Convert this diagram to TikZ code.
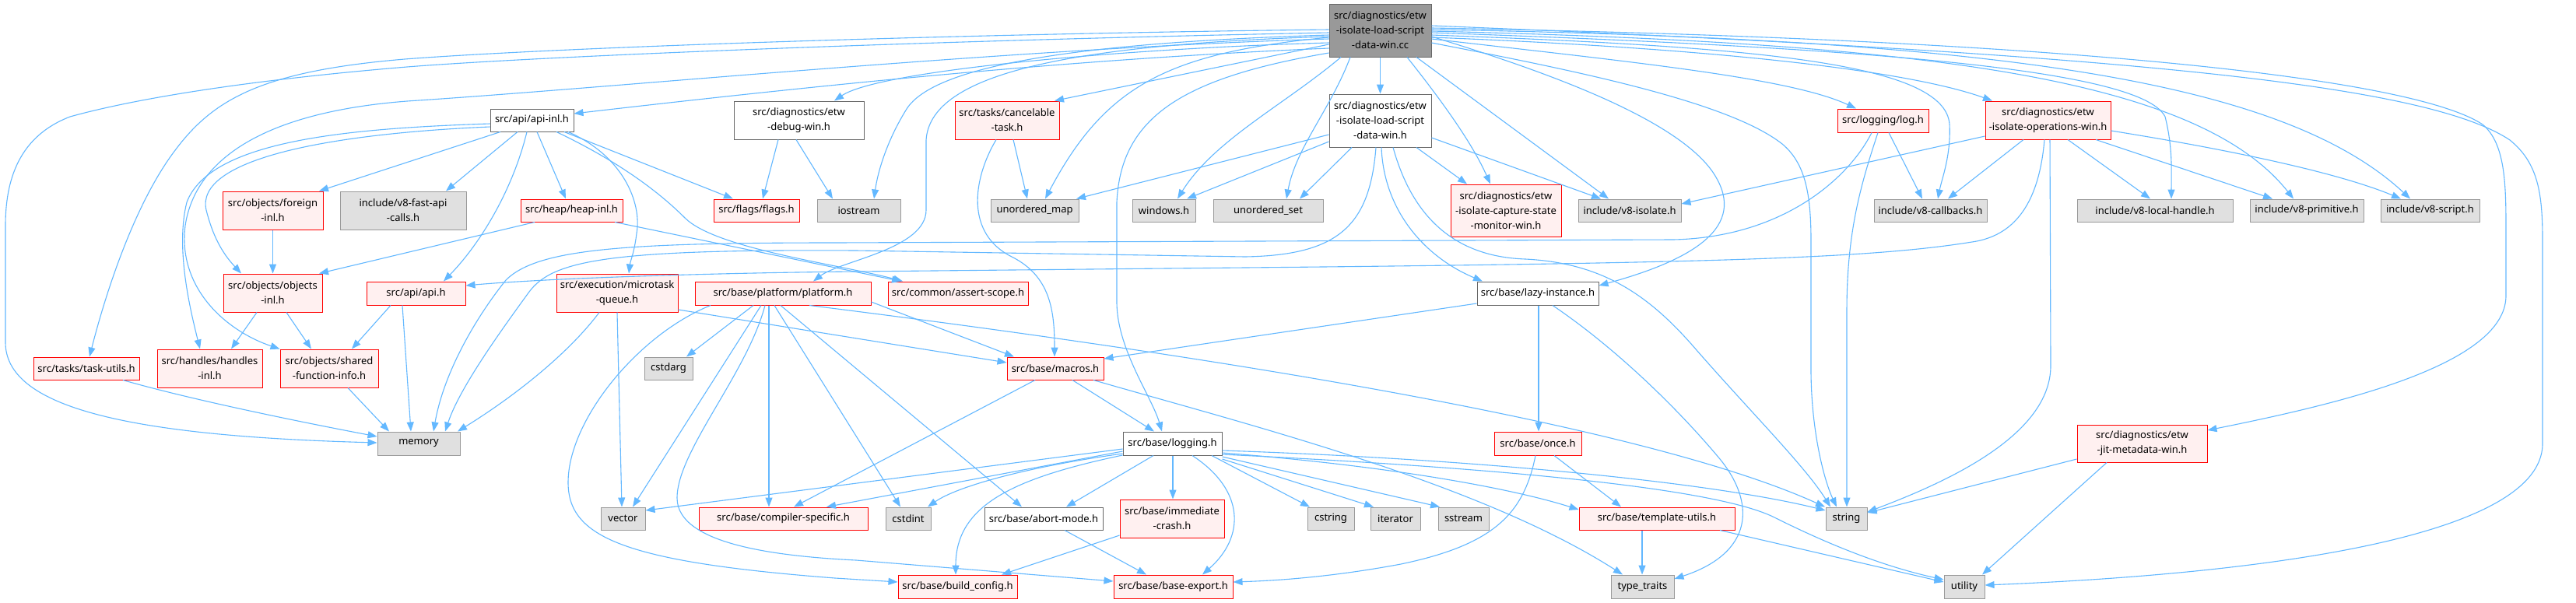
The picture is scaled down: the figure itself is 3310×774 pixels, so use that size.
\documentclass[tikz,border=0pt]{standalone}
\usepackage{fontspec}
\setmainfont{Noto Sans}
\usetikzlibrary{arrows.meta}
\definecolor{edgec}{HTML}{63B8FF}
\definecolor{rborder}{HTML}{FF0000}
\definecolor{rfill}{HTML}{FFF0F0}
\definecolor{gborder}{HTML}{999999}
\definecolor{gfill}{HTML}{E0E0E0}
\definecolor{wborder}{HTML}{666666}
\definecolor{rootfill}{HTML}{999999}
\tikzset{
  box/.style={rectangle, line width=1pt, inner sep=0pt, align=center, text=black,
    font=\fontsize{13pt}{19pt}\selectfont},
  rn/.style={box, draw=rborder, fill=rfill},
  gn/.style={box, draw=gborder, fill=gfill},
  wn/.style={box, draw=wborder, fill=white},
  rootn/.style={box, draw=wborder, fill=rootfill},
  e/.style={draw=edgec, line width=1.1pt, -{Triangle[length=12pt,width=9pt]}},
  sz/.style 2 args={minimum width=#1pt, minimum height=#2pt}
}
\begin{document}
\begin{tikzpicture}[x=1pt,y=-1pt]
\fill[white] (0,0) rectangle (3310,774);
\useasboundingbox (0,0) rectangle (3310,774);
% nodes
\node[rootn,sz={131}{68}] (root) at (1773.5,39) {src/diagnostics/etw\\-isolate-load-script\\-data-win.cc};
\node[wn,sz={131}{68}] (loadh) at (1773.5,155) {src/diagnostics/etw\\-isolate-load-script\\-data-win.h};
\node[rn,sz={142}{67}] (capture) at (1935,270.5) {src/diagnostics/etw\\-isolate-capture-state\\-monitor-win.h};
\node[gn,sz={132}{29}] (isolate) at (2094,270.5) {include/v8-isolate.h};
\node[wn,sz={156}{30}] (lazy) at (1976,377) {src/base/lazy-instance.h};
\node[gn,sz={141}{29}] (uset) at (1629.5,270.5) {unordered\_set};
\node[gn,sz={81}{29}] (windows) at (1495.5,270.5) {windows.h};
\node[gn,sz={113}{29}] (umap) at (1329.5,270.5) {unordered\_map};
\node[rn,sz={134}{49}] (cancel) at (1294,154.5) {src/tasks/cancelable\\-task.h};
\node[gn,sz={107}{29}] (iostream) at (1103.5,270.5) {iostream};
\node[wn,sz={167}{49}] (debug) at (1026.5,154.5) {src/diagnostics/etw\\-debug-win.h};
\node[rn,sz={110}{29}] (flags) at (972,270.5) {src/flags/flags.h};
\node[wn,sz={107}{29}] (apiinl) at (683.5,154.5) {src/api/api-inl.h};
\node[rn,sz={131}{29}] (heap) at (734.5,270.5) {src/heap/heap-inl.h};
\node[gn,sz={162}{49}] (fastapi) at (518,270.5) {include/v8-fast-api\\-calls.h};
\node[rn,sz={129}{49}] (foreign) at (350.5,270.5) {src/objects/foreign\\-inl.h};
\node[rn,sz={127}{49}] (objects) at (350.5,376.5) {src/objects/objects\\-inl.h};
\node[rn,sz={127}{30}] (api) at (534.5,377) {src/api/api.h};
\node[rn,sz={156}{49}] (microtask) at (793,376.5) {src/execution/microtask\\-queue.h};
\node[rn,sz={226}{30}] (platform) at (1006,377) {src/base/platform/platform.h};
\node[rn,sz={180}{30}] (assert) at (1231,377) {src/common/assert-scope.h};
\node[rn,sz={136}{29}] (taskutils) at (111,473.5) {src/tasks/task-utils.h};
\node[rn,sz={135}{49}] (handles) at (269.5,473.5) {src/handles/handles\\-inl.h};
\node[rn,sz={126}{49}] (sfi) at (423,473.5) {src/objects/shared\\-function-info.h};
\node[gn,sz={106}{30}] (memory) at (538,570) {memory};
\node[gn,sz={62}{29}] (cstdarg) at (859,473.5) {cstdarg};
\node[rn,sz={124}{29}] (macros) at (1356,473.5) {src/base/macros.h};
\node[gn,sz={57}{29}] (vector) at (800.5,666.5) {vector};
\node[rn,sz={217}{29}] (compiler) at (1006.5,666.5) {src/base/compiler-specific.h};
\node[gn,sz={58}{29}] (cstdint) at (1167,666.5) {cstdint};
\node[wn,sz={127}{30}] (logging) at (1506.5,570) {src/base/logging.h};
\node[wn,sz={152}{29}] (abort) at (1341,666.5) {src/base/abort-mode.h};
\node[rn,sz={134}{49}] (immediate) at (1506,666.5) {src/base/immediate\\-crash.h};
\node[rn,sz={153}{30}] (buildcfg) at (1230.5,754) {src/base/build\_config.h};
\node[rn,sz={153}{30}] (baseexport) at (1507.5,754) {src/base/base-export.h};
\node[gn,sz={60}{29}] (cstring) at (1710,666.5) {cstring};
\node[gn,sz={64}{29}] (iterator) at (1793,666.5) {iterator};
\node[gn,sz={65}{29}] (sstream) at (1880.5,666.5) {sstream};
\node[rn,sz={112}{30}] (once) at (1976,570) {src/base/once.h};
\node[rn,sz={200}{29}] (template) at (2129,666.5) {src/base/template-utils.h};
\node[gn,sz={81}{30}] (typetraits) at (2110.5,754) {type\_traits};
\node[gn,sz={53}{29}] (string) at (2372.5,666.5) {string};
\node[gn,sz={52}{30}] (utility) at (2524,754) {utility};
\node[rn,sz={167}{48}] (jit) at (2752.5,570) {src/diagnostics/etw\\-jit-metadata-win.h};
\node[rn,sz={117}{30}] (log) at (2419.5,155) {src/logging/log.h};
\node[rn,sz={161}{49}] (opswin) at (2631.5,154.5) {src/diagnostics/etw\\-isolate-operations-win.h};
\node[gn,sz={145}{29}] (callbacks) at (2480.5,270.5) {include/v8-callbacks.h};
\node[gn,sz={200}{29}] (localhandle) at (2769,270.5) {include/v8-local-handle.h};
\node[gn,sz={146}{29}] (primitive) at (2964,270.5) {include/v8-primitive.h};
\node[gn,sz={127}{29}] (script) at (3122.5,270.5) {include/v8-script.h};
% root edges
\draw[e] (root.west |- 0,42) .. controls (1200,52) and (700,72) .. (523,86) .. controls (330,102) and (180,125) .. (90,150) .. controls (25,175) and (7,230) .. (7,290) -- (7,440) .. controls (7,520) and (150,560) .. (memory.west |- 0,569);
\draw[e] (root.west |- 0,38) .. controls (1200,44) and (700,62) .. (520,76) .. controls (330,92) and (270,130) .. (220,200) .. controls (170,270) and (135,380) .. (taskutils.north -| 115,0);
\draw[e] (root.west |- 0,50) .. controls (1300,62) and (800,112) .. (523,130) .. controls (330,145) and (250,210) .. (238,290) .. controls (228,370) and (290,425) .. (sfi.north west);
\draw[e] (root.west |- 0,62) .. controls (1400,75) and (1100,104) .. (apiinl.east |- 0,146);
\draw[e] (root.west |- 0,55) .. controls (1450,62) and (1130,90) .. (debug.north -| 1072,0);
\draw[e] (root.west |- 0,45) .. controls (1380,55) and (1200,85) .. (1165,140) .. controls (1140,180) and (1128,220) .. (iostream.north -| 1123,0);
\draw[e] (root.west |- 0,48) .. controls (1500,68) and (1420,110) .. (umap.north -| 1343,0);
\draw[e] (root.west |- 0,57) -- (cancel.north -| 1355,0);
\draw[e] (root.west |- 0,47) .. controls (1350,58) and (1195,100) .. (1190,180) -- (1190,270) .. controls (1190,320) and (1080,335) .. (platform.north -| 1045,0);
\draw[e] (root.south -| 1723,0) .. controls (1650,135) and (1560,180) .. (windows.north -| 1513,0);
\draw[e] (root.west |- 0,68) .. controls (1520,100) and (1440,150) .. (1435,260) -- (1435,390) .. controls (1436,450) and (1480,510) .. (logging.north -| 1493,0);
\draw[e] (root.south -| 1735,0) .. controls (1710,140) and (1665,190) .. (uset.north -| 1653,0);
\draw[e] (root) -- (loadh);
\draw[e] (root.south -| 1808,0) .. controls (1845,120) and (1890,180) .. (capture.north -| 1915,0);
\draw[e] (root.south -| 1820,0) -- (isolate.north -| 2067,0);
\draw[e] (root.east |- 0,47) .. controls (1980,90) and (2150,150) .. (2200,220) .. controls (2245,285) and (2190,330) .. (lazy.east |- 0,367);
\draw[e] (root.east |- 0,55) .. controls (2020,90) and (2220,130) .. (2290,185) .. controls (2320,210) and (2327,250) .. (2327,310) -- (2327,480) .. controls (2328,560) and (2345,620) .. (string.north -| 2360,0);
\draw[e] (root.east |- 0,50) .. controls (2100,80) and (2300,100) .. (log.north -| 2385,0);
\draw[e] (root.east |- 0,45) .. controls (2250,60) and (2500,80) .. (2505,160) .. controls (2507,200) and (2495,230) .. (callbacks.north -| 2490,0);
\draw[e] (root.east |- 0,48) .. controls (2200,62) and (2450,90) .. (opswin.north -| 2560,0);
\draw[e] (root.east |- 0,42) .. controls (2350,60) and (2750,85) .. (2782,150) .. controls (2792,190) and (2790,220) .. (localhandle.north -| 2790,0);
\draw[e] (root.east |- 0,40) .. controls (2450,55) and (2820,95) .. (primitive.north -| 2947,0);
\draw[e] (root.east |- 0,38) .. controls (2550,50) and (2930,100) .. (script.north -| 3097,0);
\draw[e] (root.east |- 0,36) .. controls (2650,50) and (3100,100) .. (3190,160) .. controls (3220,185) and (3220,240) .. (3220,300) -- (3220,380) .. controls (3220,470) and (3000,520) .. (jit.east |- 0,553);
\draw[e] (root.east |- 0,33) .. controls (2750,70) and (3120,110) .. (3225,180) .. controls (3262,210) and (3267,250) .. (3267,310) -- (3267,570) .. controls (3267,700) and (2850,740) .. (utility.east |- 0,752);
% loadh edges
\draw[e] (loadh.west |- 0,173) -- (umap.north -| 1383,0);
\draw[e] (loadh.west |- 0,182) -- (windows.north -| 1525,0);
\draw[e] (loadh.south -| 1737,0) -- (uset.north -| 1670,0);
\draw[e] (loadh.south -| 1768,0) .. controls (1760,290) and (1720,328) .. (1600,330) -- (1100,322) .. controls (780,320) and (710,335) .. (680,375) .. controls (640,430) and (590,500) .. (memory.north -| 572,0);
\draw[e] (loadh.south -| 1775,0) .. controls (1778,270) and (1830,330) .. (lazy.north -| 1905,0);
\draw[e] (loadh.south -| 1790,0) .. controls (1815,280) and (1870,330) .. (1960,333) .. controls (2060,338) and (2120,380) .. (2180,450) .. controls (2250,530) and (2320,600) .. (string.north -| 2352,0);
\draw[e] (loadh.south -| 1820,0) -- (capture.north -| 1885,0);
\draw[e] (loadh.east |- 0,177) -- (isolate.north -| 2057,0);
% log edges
\draw[e] (log.south -| 2405,0) .. controls (2375,230) and (2290,305) .. (2150,308) -- (1073,312) .. controls (800,312) and (690,320) .. (650,360) .. controls (610,410) and (570,480) .. (memory.north -| 557,0);
\draw[e] (log.south -| 2413,0) .. controls (2390,240) and (2373,300) .. (2373,400) -- (string.north -| 2373,0);
\draw[e] (log.south -| 2427,0) -- (callbacks.north -| 2470,0);
% opswin edges
\draw[e] (opswin.west |- 0,175) -- (isolate.east |- 0,262);
\draw[e] (opswin.south -| 2600,0) -- (callbacks.north -| 2503,0);
\draw[e] (opswin.south -| 2627,0) .. controls (2620,260) and (2590,300) .. (2540,310) .. controls (2420,330) and (2250,337) .. (1700,343) -- (1100,349) .. controls (900,351) and (700,358) .. (api.east |- 0,367);
\draw[e] (opswin.south -| 2634,0) -- (2635,470) .. controls (2635,560) and (2500,620) .. (string.east |- 0,658);
\draw[e] (opswin.south -| 2657,0) -- (localhandle.north -| 2763,0);
\draw[e] (opswin.south -| 2693,0) -- (primitive.north -| 2920,0);
\draw[e] (opswin.east |- 0,168) .. controls (2850,190) and (3000,220) .. (script.north -| 3085,0);
% cancel, debug
\draw[e] (cancel.south -| 1302,0) -- (umap.north -| 1320,0);
\draw[e] (cancel.south -| 1280,0) .. controls (1250,230) and (1240,300) .. (1300,330) .. controls (1350,355) and (1355,400) .. (macros.north -| 1355,0);
\draw[e] (debug.south -| 1000,0) -- (flags.north -| 980,0);
\draw[e] (debug.south -| 1023,0) -- (iostream.north -| 1070,0);
% apiinl
\draw[e] (apiinl.south -| 643,0) -- (foreign.north -| 410,0);
\draw[e] (apiinl.south -| 665,0) -- (fastapi.north -| 573,0);
\draw[e] (apiinl.south -| 677,0) .. controls (660,240) and (620,310) .. (api.north -| 570,0);
\draw[e] (apiinl.south -| 690,0) -- (heap.north -| 727,0);
\draw[e] (apiinl.south -| 725,0) -- (flags.north -| 942,0);
\draw[e] (apiinl.south -| 730,0) .. controls (800,200) and (825,260) .. (818,300) .. controls (815,325) and (810,335) .. (microtask.north -| 808,0);
\draw[e] (apiinl.south -| 715,0) .. controls (800,210) and (850,250) .. (880,280) .. controls (920,320) and (1080,340) .. (assert.north -| 1160,0);
\draw[e] (apiinl.west |- 0,159) .. controls (450,165) and (270,180) .. (240,260) .. controls (225,320) and (245,400) .. (handles.north -| 257,0);
\draw[e] (apiinl.west |- 0,163) .. controls (420,172) and (250,205) .. (265,270) .. controls (275,310) and (290,330) .. (objects.north -| 310,0);
% heap etc
\draw[e] (heap.south -| 687,0) -- (objects.north -| 410,0);
\draw[e] (heap.south -| 790,0) -- (assert.north -| 1158,0);
\draw[e] (foreign) -- (objects);
\draw[e] (objects.south -| 330,0) -- (handles.north -| 297,0);
\draw[e] (objects.south -| 368,0) -- (sfi.north -| 400,0);
\draw[e] (api.south -| 502,0) -- (sfi.north -| 452,0);
\draw[e] (api.south -| 517,0) -- (memory.north -| 528,0);
\draw[e] (sfi.south -| 447,0) -- (memory.north -| 500,0);
\draw[e] (taskutils.south -| 158,0) .. controls (250,515) and (400,545) .. (memory.west |- 0,561);
\draw[e] (microtask.south -| 770,0) .. controls (730,455) and (660,510) .. (memory.north -| 588,0);
\draw[e] (microtask.south -| 793,0) -- (vector.north -| 799,0);
\draw[e] (microtask.east |- 0,398) -- (macros.west |- 0,466);
% platform
\draw[e] (platform.south -| 913,0) .. controls (820,430) and (730,540) .. (730,620) .. controls (730,690) and (800,722) .. (1073,743) -- (buildcfg.west |- 0,748);
\draw[e] (platform.south -| 968,0) -- (cstdarg.north -| 882,0);
\draw[e] (platform.south -| 978,0) -- (vector.north -| 813,0);
\draw[e] (platform.south -| 983,0) .. controls (960,480) and (870,580) .. (870,640) .. controls (870,700) and (1000,715) .. (1100,720) -- (baseexport.west |- 0,747);
\draw[e] (platform.south -| 988,0) -- (compiler.north -| 988,0);
\draw[e] (platform.south -| 995,0) -- (cstdint.north -| 1157,0);
\draw[e] (platform.south -| 1003,0) -- (abort.north -| 1313,0);
\draw[e] (platform.east |- 0,388) -- (macros.north -| 1303,0);
\draw[e] (platform.south -| 1040,0) .. controls (1500,450) and (2100,540) .. (string.north -| 2345,0);
% macros
\draw[e] (macros.south -| 1378,0) -- (logging.north -| 1483,0);
\draw[e] (macros.south -| 1330,0) -- (compiler.north -| 1020,0);
\draw[e] (macros.south -| 1405,0) .. controls (1600,545) and (1900,620) .. (typetraits.north -| 2085,0);
% lazy
\draw[e] (lazy.west |- 0,390) -- (macros.east |- 0,461);
\draw[e] (lazy.south -| 1977,0) -- (once.north -| 1977,0);
\draw[e] (lazy.south -| 1995,0) .. controls (2080,450) and (2160,530) .. (2210,590) .. controls (2255,645) and (2255,710) .. (typetraits.east |- 0,744);
% once, template
\draw[e] (once.south -| 1997,0) -- (template.north -| 2083,0);
\draw[e] (once.south -| 1973,0) .. controls (1958,660) and (1920,700) .. (1800,725) .. controls (1720,740) and (1650,746) .. (baseexport.east |- 0,748);
\draw[e] (template.south -| 2110,0) -- (typetraits.north -| 2110,0);
\draw[e] (template.south -| 2210,0) -- (utility.west |- 0,748);
% logging
\draw[e] (logging.west |- 0,577) -- (vector.east |- 0,656);
\draw[e] (logging.west |- 0,580) -- (compiler.north -| 1062,0);
\draw[e] (logging.west |- 0,583) .. controls (1320,600) and (1230,625) .. (cstdint.north -| 1192,0);
\draw[e] (logging.west |- 0,585) .. controls (1300,615) and (1228,650) .. (buildcfg.north -| 1228,0);
\draw[e] (logging.south -| 1482,0) -- (abort.north -| 1370,0);
\draw[e] (logging.south -| 1507,0) -- (immediate.north -| 1507,0);
\draw[e] (logging.south -| 1532,0) .. controls (1600,630) and (1600,690) .. (baseexport.north -| 1545,0);
\draw[e] (logging.south -| 1557,0) -- (cstring.north -| 1683,0);
\draw[e] (logging.east |- 0,590) -- (iterator.north -| 1765,0);
\draw[e] (logging.east |- 0,587) -- (sstream.north -| 1850,0);
\draw[e] (logging.east |- 0,582) .. controls (1800,600) and (1950,630) .. (template.west |- 0,655);
\draw[e] (logging.east |- 0,579) .. controls (1900,590) and (2200,620) .. (string.west |- 0,656);
\draw[e] (logging.east |- 0,584) .. controls (1900,600) and (2200,625) .. (2280,665) .. controls (2350,700) and (2420,728) .. (utility.west |- 0,745);
\draw[e] (immediate.west |- 0,688) -- (buildcfg.north -| 1287,0);
\draw[e] (abort.south -| 1368,0) -- (baseexport.north -| 1473,0);
% jit
\draw[e] (jit.west |- 0,590) -- (string.east |- 0,659);
\draw[e] (jit.south -| 2707,0) -- (utility.north -| 2547,0);
\end{tikzpicture}
\end{document}
